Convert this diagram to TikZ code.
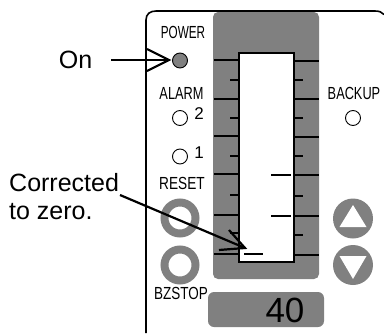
\documentclass[tikz,border=0pt]{standalone}
\usepackage{graphicx}
\usepackage{fontspec}
\setmainfont{Liberation Sans}
\definecolor{pgray}{gray}{0.5}
\newcommand{\narrowlbl}[2]{\scalebox{#1}[1]{#2}}
\tikzset{
  txt/.style={inner sep=0pt,font=\fontsize{25}{28}\selectfont},
  lbl/.style={inner sep=0pt,font=\fontsize{17.5}{20}\selectfont},
  num/.style={inner sep=0pt,font=\fontsize{17}{20}\selectfont},
  led/.style={circle,draw=black,line width=0.9pt,fill=white,minimum size=15pt,inner sep=0pt},
  ring/.style={circle,draw=pgray,line width=8pt,fill=white,minimum size=31pt,inner sep=0pt},
  disc/.style={circle,fill=pgray,minimum size=40pt,inner sep=0pt},
  major/.style={line width=1.7pt},
  minor/.style={line width=1.4pt},
  lead/.style={line width=2.2pt},
}
\begin{document}
\begin{tikzpicture}[x=1pt,y=-1pt]
\useasboundingbox (0,0) rectangle (384,333);
% gray bezel
\fill[pgray,rounded corners=5pt] (213,12) rectangle (319,279);
\fill[pgray,rounded corners=6pt] (208,292) rectangle (324,327);
% panel outline
\draw[line width=1.6pt] (146,333) -- (146,20) .. controls (146,14) and (150,11) .. (156,11) -- (375,11) .. controls (379,11) and (382,12) .. (384,14.5);
% window
\draw[fill=white,line width=1.7pt] (238.7,53) rectangle (293.7,262);
% left ticks
\foreach \y in {60,99,136,174,215,254} \draw[major] (214,\y) -- (238.7,\y);
\foreach \y in {80,118,156,195,233} \draw[minor] (230,\y) -- (238.7,\y);
% right ticks
\foreach \y in {61,99,137,175,216,255} \draw[major] (293.7,\y) -- (319,\y);
\foreach \y in {80,118,156,196,235} \draw[minor] (293.7,\y) -- (303,\y);
% level marks
\draw[major] (271,175) -- (291,175);
\draw[major] (271,216) -- (291,216);
\draw[major] (244,254) -- (263,254);
% LEDs
\node[led,fill=pgray] (power) at (180,60.5) {};
\node[led] (al2) at (180,118) {};
\node[led] (al1) at (180,156.5) {};
\node[led] (backup) at (353,118) {};
% buttons
\node[ring] (reset) at (180,218) {};
\node[ring] (bz) at (180,265) {};
\node[disc] (up) at (353,218.5) {};
\node[disc] (down) at (353,265) {};
\fill[white] (353,205) -- (366.5,227) -- (339.5,227) -- cycle;
\fill[white] (353,279) -- (366.5,256) -- (339.5,256) -- cycle;
% labels
\node[lbl] (tpower) at (183,32.5) {\narrowlbl{0.67}{POWER}};
\node[lbl] (talarm) at (181.5,93.5) {\narrowlbl{0.73}{ALARM}};
\node[lbl] (tbackup) at (354,93.5) {\narrowlbl{0.73}{BACKUP}};
\node[lbl] (treset) at (182,183) {\narrowlbl{0.78}{RESET}};
\node[lbl] (tbz) at (181,293) {\narrowlbl{0.77}{BZSTOP}};
\node[num] (n2) at (199,113.5) {2};
\node[num] (n1) at (199,152.5) {1};
\node[inner sep=0pt,font=\fontsize{35}{40}\selectfont] (val) at (285,310) {40};
\node[txt] (on) at (75.5,60) {On};
\node[txt,anchor=west] (c1) at (9,183) {Corrected};
\node[txt,anchor=west] (c2) at (9,212) {to zero.};
% leaders
\coordinate (onstart) at (111,60);
\coordinate (ontip) at (169,60);
\coordinate (onb1) at (147,49);
\coordinate (onb2) at (147,71);
\draw[lead] (onstart) -- (ontip);
\draw[lead] (onb1) -- (ontip) -- (onb2);
\coordinate (cstart) at (120,195);
\coordinate (ctip) at (245,248);
\coordinate (cb1) at (229,230);
\coordinate (cb2) at (219,250);
\draw[lead] (cstart) -- (ctip);
\draw[lead] (cb1) -- (ctip) -- (cb2);
\end{tikzpicture}
\end{document}
